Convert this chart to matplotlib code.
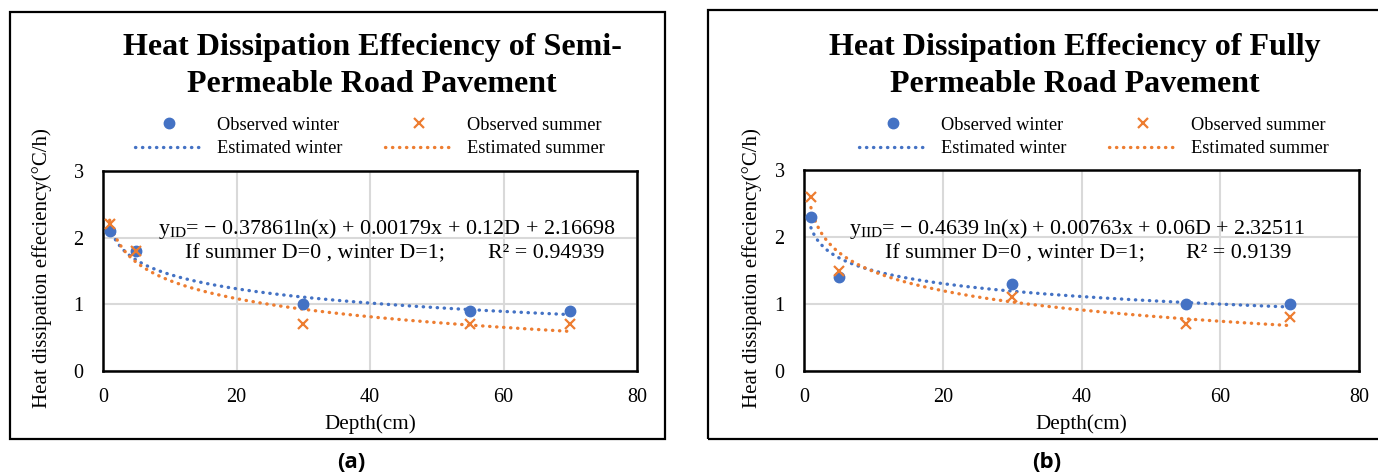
import numpy as np
import matplotlib
matplotlib.use("Agg")
import matplotlib.pyplot as plt
from matplotlib.lines import Line2D
from matplotlib.patches import Rectangle

plt.rcParams["font.family"] = ["Liberation Serif", "DejaVu Serif"]
plt.rcParams["mathtext.fontset"] = "custom"
plt.rcParams["mathtext.rm"] = "Liberation Serif"

BLUE = "#4472C4"
ORANGE = "#ED7D31"
GRID = "#D9D9D9"

# depth of the sensors (cm)
depth = [1, 5, 30, 55, 70]

# heat dissipation efficiency (°C/h)
semi_winter = [2.1, 1.8, 1.0, 0.9, 0.9]
semi_summer = [2.2, 1.8, 0.7, 0.7, 0.7]
full_winter = [2.3, 1.4, 1.3, 1.0, 1.0]
full_summer = [2.6, 1.5, 1.1, 0.7, 0.8]

titles = [
    "Heat Dissipation Effeciency of Semi-\nPermeable Road Pavement",
    "Heat Dissipation Effeciency of Fully\nPermeable Road Pavement",
]
equations = [
    r"$\mathregular{y_{ID}}$= − 0.37861ln(x) + 0.00179x + 0.12D + 2.16698",
    r"$\mathregular{y_{IID}}$= − 0.4639 ln(x) + 0.00763x + 0.06D + 2.32511",
]
r_squared = ["R² = 0.94939", "R² = 0.9139"]
panel_tags = ["(a)", "(b)"]

W, H = 1378, 474


def fx(px):
    return px / W


def fy(py):
    return 1 - py / H


fig = plt.figure(figsize=(W / 100, H / 100), dpi=100)

# layout of each panel in pixels
panels = [
    dict(box=(10, 12, 665, 439), ax=(103, 171, 637, 371), title_x=372,
         leg_x=370, eq=(158, 229), eq2=(185, 254), r2=(488, 254),
         ylab_x=42, tag_x=351, winter=semi_winter, summer=semi_summer),
    dict(box=(708, 10, 1390, 439), ax=(804, 170, 1359, 371), title_x=1075,
         leg_x=1094, eq=(849, 229), eq2=(885, 254), r2=(1186, 254),
         ylab_x=752, tag_x=1047, winter=full_winter, summer=full_summer),
]

dotted = dict(linestyle=(0, (0.1, 2.0)), linewidth=2.4, dash_capstyle="round")
x_fit = np.linspace(1, 70, 300)

for i, p in enumerate(panels):
    bx0, by0, bx1, by1 = p["box"]
    fig.patches.append(Rectangle((fx(bx0), fy(by1)), fx(bx1 - bx0), (by1 - by0) / H,
                                 transform=fig.transFigure, fill=False,
                                 edgecolor="black", linewidth=1.6))

    ax0, ay0, ax1, ay1 = p["ax"]
    ax = fig.add_axes([fx(ax0), fy(ay1), fx(ax1 - ax0), (ay1 - ay0) / H])

    # logarithmic trendlines fitted to the observations
    logd = np.log(depth)
    kw, bw = np.polyfit(logd, p["winter"], 1)
    ks, bs = np.polyfit(logd, p["summer"], 1)
    ax.plot(x_fit, kw * np.log(x_fit) + bw, color=BLUE, **dotted, zorder=3)
    ax.plot(x_fit, ks * np.log(x_fit) + bs, color=ORANGE, **dotted, zorder=3)

    ax.plot(depth, p["winter"], "o", color=BLUE, markersize=7.5, zorder=4)
    ax.plot(depth, p["summer"], "x", color=ORANGE, markersize=6.5,
            markeredgewidth=1.6, zorder=5)

    ax.set_xlim(0, 80)
    ax.set_ylim(0, 3)
    ax.set_xticks([0, 20, 40, 60, 80])
    ax.set_yticks([0, 1, 2, 3])
    ax.grid(True, color=GRID, linewidth=1.5)
    ax.set_axisbelow(True)
    for s in ax.spines.values():
        s.set_linewidth(1.8)
    ax.tick_params(length=0, labelsize=14.5, pad=12)
    ax.tick_params(axis="y", pad=14)

    fig.text(fx((ax0 + ax1) / 2), fy(424), "Depth(cm)", ha="center", va="center",
             fontsize=15.2)
    fig.text(fx(p["ylab_x"]), fy(268), "Heat dissipation effeciency(°C/h)",
             rotation=90, ha="center", va="center", fontsize=15)

    fig.text(fx(p["title_x"]), fy(66), titles[i], ha="center", va="center",
             fontsize=23, fontweight="bold", linespacing=1.38)

    handles = [
        Line2D([], [], marker="o", color=BLUE, linestyle="none", markersize=7.5),
        Line2D([], [], color=BLUE, **dotted),
        Line2D([], [], marker="x", color=ORANGE, linestyle="none", markersize=6.5,
               markeredgewidth=1.6),
        Line2D([], [], color=ORANGE, **dotted),
    ]
    labels = ["Observed winter", "Estimated winter", "Observed summer", "Estimated summer"]
    fig.legend(handles, labels, ncol=2, loc="center",
               bbox_to_anchor=(fx(p["leg_x"]), fy(137)), frameon=False,
               fontsize=13.2, handlelength=3.75, handletextpad=0.75,
               columnspacing=2.3, labelspacing=0.35)

    fig.text(fx(p["eq"][0]), fy(p["eq"][1]), equations[i], ha="left", va="center",
             fontsize=15.8)
    fig.text(fx(p["eq2"][0]), fy(p["eq2"][1]), "If summer D=0 , winter D=1;",
             ha="left", va="center", fontsize=15.8)
    fig.text(fx(p["r2"][0]), fy(p["r2"][1]), r_squared[i], ha="left", va="center",
             fontsize=15.8)

    fig.text(fx(p["tag_x"]), fy(462), panel_tags[i], ha="center", va="center",
             fontsize=16, family=["Open Sans", "DejaVu Sans"], fontweight="bold")

fig.savefig("out.png", dpi=100)
